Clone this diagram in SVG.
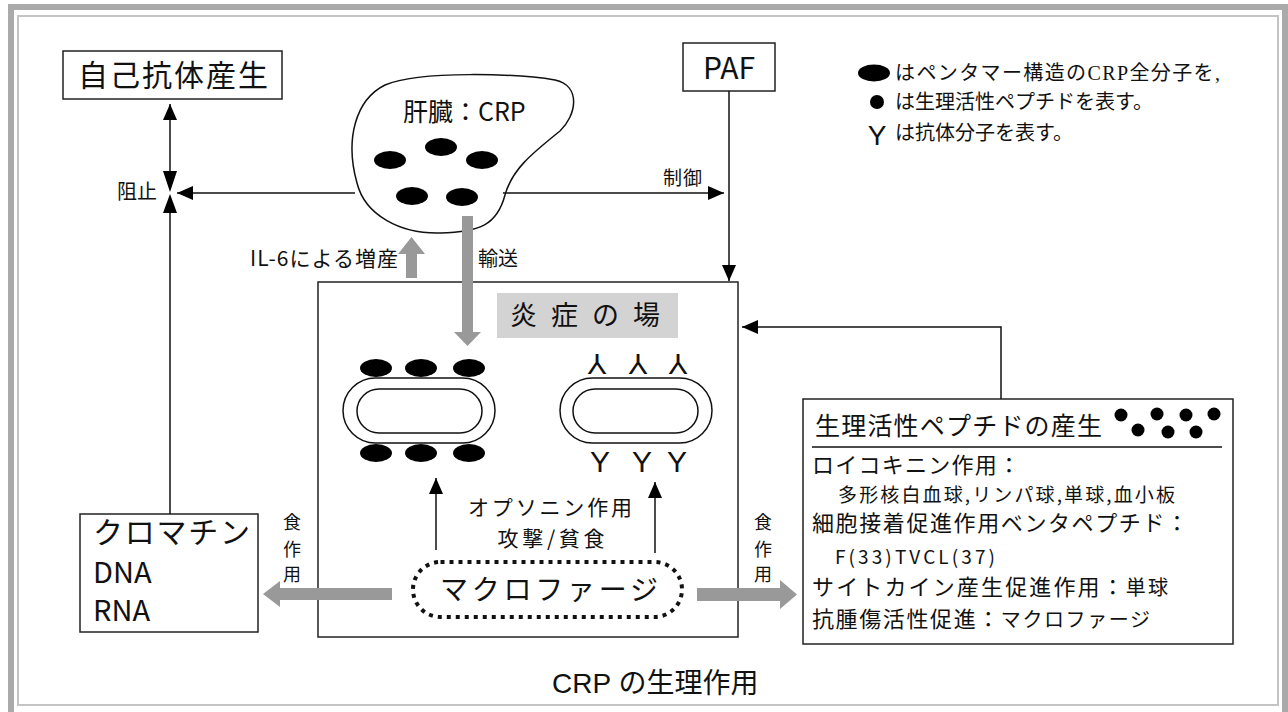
<svg xmlns="http://www.w3.org/2000/svg" width="1288" height="712" viewBox="0 0 1288 712">
<style>
.jp{font-family:"Noto Sans CJK JP","Noto Sans",sans-serif;fill:#111}
.ser{font-family:"Liberation Serif","Noto Sans CJK JP",serif;fill:#111}
.lat{font-family:"Liberation Sans","Noto Sans CJK JP",sans-serif;fill:#111}
.box{fill:#fff;stroke:#222;stroke-width:1.5}
.frm{fill:none;stroke:#222;stroke-width:1.5}
.ln{fill:none;stroke:#111;stroke-width:1.5}
.gray{fill:#999;stroke:none}
.blk{fill:#000}
</style>
<defs>
<marker id="ah" markerUnits="userSpaceOnUse" markerWidth="18" markerHeight="14" refX="16" refY="7" orient="auto">
<path d="M0,0 L16,7 L0,14 Z" fill="#000"/>
</marker>
</defs>
<rect width="1288" height="712" fill="#fff"/>
<g id="frame">
<rect x="11" y="7" width="1274" height="720" fill="none" stroke="#aaa" stroke-width="6"/>
<rect x="18" y="16" width="1260" height="689" fill="none" stroke="#c4c4c4" stroke-width="2"/>
</g>
<g id="node-autoantibody">
<rect class="box" x="63" y="51" width="219" height="48"/>
<text class="jp" x="78" y="86" font-size="30" textLength="190">自己抗体産生</text>
</g>
<g id="node-liver">
<path class="ln" d="M357,183 C345,140 355,100 385,85 C420,70 520,74 555,80 C582,86 576,116 560,131 C530,155 512,170 505,195 C497,225 480,232 440,233 C400,234 365,215 357,183 Z" fill="#fff"/>
<text class="jp" x="403" y="121" font-size="25">肝臓：CRP</text>
<ellipse class="blk" cx="390" cy="160" rx="16" ry="9"/>
<ellipse class="blk" cx="441" cy="147" rx="16" ry="9"/>
<ellipse class="blk" cx="482" cy="160" rx="16" ry="9"/>
<ellipse class="blk" cx="412" cy="196" rx="16" ry="9"/>
<ellipse class="blk" cx="462" cy="197" rx="16" ry="9"/>
</g>
<g id="node-paf">
<rect class="box" x="683" y="43" width="92" height="48"/>
<text class="jp" x="729" y="79" font-size="30" text-anchor="middle">PAF</text>
</g>
<g id="legend">
<ellipse class="blk" cx="874" cy="73" rx="16" ry="8.5"/>
<text class="ser" x="895" y="80" font-size="20" textLength="325">はペンタマー構造のCRP全分子を,</text>
<circle class="blk" cx="877" cy="102" r="7"/>
<text class="ser" x="895" y="109" font-size="20">は生理活性ペプチドを表す。</text>
<text class="lat" x="877" y="145" font-size="28" text-anchor="middle">Y</text>
<text class="ser" x="895" y="140" font-size="20">は抗体分子を表す。</text>
</g>
<g id="node-inflammation">
<rect class="frm" x="318" y="282" width="420" height="355"/>
<rect x="497" y="293" width="181" height="45" fill="#d3d3d3"/>
<text class="jp" x="510" y="325" font-size="27" textLength="150">炎症の場</text>
</g>
<g id="node-cell-crp">
<rect class="ln" x="343" y="378" width="152" height="65" rx="32.5"/>
<rect class="ln" x="357" y="389" width="125" height="44" rx="22"/>
<ellipse class="blk" cx="376" cy="368" rx="16" ry="9"/>
<ellipse class="blk" cx="421" cy="368" rx="16" ry="9"/>
<ellipse class="blk" cx="469" cy="368" rx="16" ry="9"/>
<ellipse class="blk" cx="376" cy="453" rx="16" ry="9"/>
<ellipse class="blk" cx="421" cy="453" rx="16" ry="9"/>
<ellipse class="blk" cx="469" cy="453" rx="16" ry="9"/>
</g>
<g id="node-cell-antibody">
<rect class="ln" x="560" y="378" width="152" height="65" rx="32.5"/>
<rect class="ln" x="573" y="389" width="125" height="44" rx="22"/>
<g class="lat" font-size="30" text-anchor="middle">
<text x="597" y="375.5" transform="rotate(180 597 364.5)">Y</text>
<text x="638" y="375.5" transform="rotate(180 638 364.5)">Y</text>
<text x="678" y="375.5" transform="rotate(180 678 364.5)">Y</text>
<text x="600" y="472">Y</text>
<text x="642" y="472">Y</text>
<text x="677" y="472">Y</text>
</g>
</g>
<g id="node-macrophage">
<rect x="413" y="562" width="269" height="55" rx="27.5" fill="none" stroke="#111" stroke-width="4" stroke-dasharray="4 5"/>
<text class="jp" x="440" y="600" font-size="28" textLength="218">マクロファージ</text>
</g>
<g id="node-chromatin">
<rect class="box" x="80" y="514" width="178" height="118"/>
<text class="jp" x="93" y="543" font-size="30" textLength="157">クロマチン</text>
<text class="jp" x="93" y="583" font-size="29">DNA</text>
<text class="jp" x="93" y="621" font-size="29">RNA</text>
</g>
<g id="node-peptide">
<rect class="box" x="803" y="399" width="430" height="245"/>
<line class="ln" x1="812" y1="447" x2="1222" y2="447" stroke-width="1.2"/>
<text class="jp" x="815" y="435" font-size="25" textLength="287">生理活性ペプチドの産生</text>
<circle class="blk" cx="1121" cy="415" r="6.5"/>
<circle class="blk" cx="1138" cy="430" r="6.5"/>
<circle class="blk" cx="1157" cy="414" r="6.5"/>
<circle class="blk" cx="1168" cy="432" r="6.5"/>
<circle class="blk" cx="1186" cy="415" r="6.5"/>
<circle class="blk" cx="1196" cy="432" r="6.5"/>
<circle class="blk" cx="1214" cy="414" r="6.5"/>
<text class="jp" x="812" y="473" font-size="22" textLength="208">ロイコキニン作用：</text>
<text class="jp" x="838" y="502" font-size="19" textLength="337">多形核白血球,リンパ球,単球,血小板</text>
<text class="jp" x="812" y="531" font-size="22" textLength="376">細胞接着促進作用ベンタペプチド：</text>
<text class="jp" x="835" y="564" font-size="19" textLength="160">F(33)TVCL(37)</text>
<text class="jp" x="812" y="595" font-size="22" textLength="356">サイトカイン産生促進作用：<tspan font-size="20">単球</tspan></text>
<text class="jp" x="812" y="627" font-size="22" textLength="338">抗腫傷活性促進：<tspan font-size="20">マクロファージ</tspan></text>
</g>
<g id="connectors">
<line class="ln" x1="355" y1="193" x2="177" y2="193" marker-end="url(#ah)"/>
<line class="ln" x1="170" y1="171" x2="170" y2="104" marker-end="url(#ah)"/>
<polygon class="blk" points="163,171 177,171 170,192"/>
<polygon class="blk" points="163,213 177,213 170,194"/>
<line class="ln" x1="170" y1="213" x2="170" y2="514"/>
<line class="ln" x1="503" y1="193" x2="724" y2="193" marker-end="url(#ah)"/>
<line class="ln" x1="729" y1="91" x2="729" y2="281" marker-end="url(#ah)"/>
<polyline class="ln" points="1001,399 1001,327 742,327" marker-end="url(#ah)"/>
<line class="ln" x1="436" y1="550" x2="436" y2="478" marker-end="url(#ah)"/>
<line class="ln" x1="655" y1="553" x2="655" y2="482" marker-end="url(#ah)"/>
<polygon class="gray" points="406,278 417,278 417,254 425,254 411.5,237 398,254 406,254"/>
<polygon class="gray" points="462,216 473,216 473,332 481,332 467.5,346 454,332 462,332"/>
<polygon class="gray" points="392,588 280,588 280,581 263,594 280,607 280,600 392,600"/>
<polygon class="gray" points="697,588 780,588 780,580 797,594.5 780,609 780,601 697,601"/>
<text class="jp" x="157" y="199" font-size="20" text-anchor="end">阻止</text>
<text class="jp" x="663" y="185" font-size="19" textLength="39">制御</text>
<text class="jp" x="250" y="266" font-size="21" textLength="148">IL-6による増産</text>
<text class="jp" x="478" y="266" font-size="20" textLength="40">輸送</text>
<text class="jp" x="550" y="515" font-size="21" text-anchor="middle" textLength="164">オプソニン作用</text>
<text class="jp" x="551" y="546" font-size="21" text-anchor="middle" textLength="107">攻撃/貧食</text>
<g class="jp" font-size="18" text-anchor="middle">
<text x="292" y="529">食</text><text x="292" y="556">作</text><text x="292" y="581">用</text>
<text x="763" y="529">食</text><text x="763" y="556">作</text><text x="763" y="581">用</text>
</g>
</g>
<g id="caption">
<text class="lat" x="552" y="693" font-size="28" fill="#222">CRP の生理作用</text>
</g>
</svg>
